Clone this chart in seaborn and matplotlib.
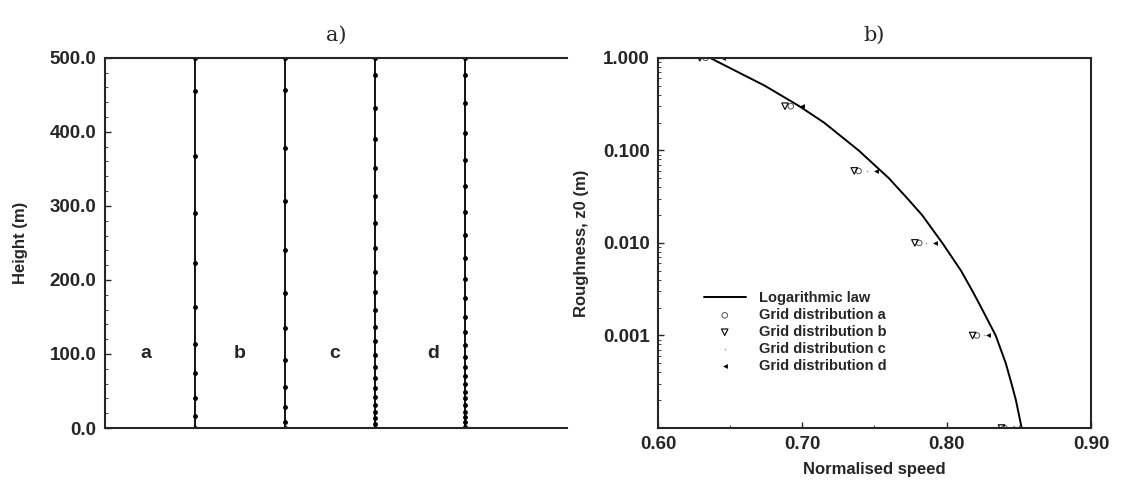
import numpy as np
import pandas as pd
import matplotlib.pyplot as plt
import seaborn as sns
from matplotlib.ticker import AutoMinorLocator, FixedLocator, FixedFormatter, NullFormatter, LogLocator

sns.set_style('ticks')
plt.rcParams['font.family'] = ['Liberation Sans', 'DejaVu Sans']
plt.rcParams['xtick.direction'] = 'in'
plt.rcParams['ytick.direction'] = 'in'

# Panel a: vertical grid point distributions (heights in m)
grid_names = ['a', 'b', 'c', 'd']
grid_xpos = [1, 2, 3, 4]
label_xpos = [0.45, 1.5, 2.55, 3.65]
heights_a = [0, 16, 40, 74, 114, 164, 223, 290, 367, 455, 500]
heights_b = [0, 8, 29, 56, 92, 135, 183, 241, 306, 378, 457, 500]
heights_c = [0, 6, 13, 22, 31, 42, 54, 67, 83, 99, 117, 137, 160, 184, 211,
             243, 277, 314, 351, 390, 432, 477, 500]
heights_d = [0, 2, 8, 15, 22, 31, 40, 49, 59, 70, 83, 96, 112, 130, 150, 175,
             201, 229, 261, 292, 327, 362, 399, 439, 477, 500]

# Panel b: logarithmic law curve
law_z0 = [1.0, 0.5, 0.3, 0.2, 0.1, 0.05, 0.03, 0.02, 0.01, 0.005, 0.003,
          0.002, 0.001, 0.0005, 0.0003, 0.0002, 0.0001]
law_speed = [0.636, 0.674, 0.698, 0.715, 0.739, 0.760, 0.773, 0.783, 0.797,
             0.810, 0.818, 0.824, 0.834, 0.841, 0.845, 0.848, 0.852]

# Panel b: simulated points for each grid distribution
pts_z0 = [1.0, 0.3, 0.06, 0.01, 0.001, 0.0001]
speed_a = [0.633, 0.692, 0.739, 0.781, 0.821, 0.840]
speed_b = [0.629, 0.688, 0.736, 0.778, 0.818, 0.838]
speed_c = [0.640, 0.697, 0.745, 0.786, 0.826, 0.843]
speed_d = [0.645, 0.700, 0.751, 0.792, 0.829, 0.845]

fig = plt.figure(figsize=(11.37, 4.82), dpi=100)
ax1 = fig.add_axes([0.0923, 0.112, 0.4063, 0.768])
ax2 = fig.add_axes([0.5787, 0.112, 0.3808, 0.768])

# ---- a) ----
for xp, h in zip(grid_xpos, [heights_a, heights_b, heights_c, heights_d]):
    sns.lineplot(x=[xp] * len(h), y=h, orient='y', ax=ax1, color='black',
                 lw=1.3, marker='o', markersize=3.5, markeredgewidth=0)
for name, xp in zip(grid_names, label_xpos):
    ax1.text(xp, 100, name, fontsize=14, fontweight='bold', ha='center', va='center')

ax1.set_xlim(0, 5.13)
ax1.set_ylim(0, 500)
ax1.set_xticks([])
ax1.set_yticks([0, 100, 200, 300, 400, 500])
ax1.set_yticklabels(['0.0', '100.0', '200.0', '300.0', '400.0', '500.0'])
ax1.yaxis.set_minor_locator(AutoMinorLocator(5))
ax1.set_ylabel('Height (m)', fontsize=12, fontweight='bold', labelpad=16)
ax1.set_title('a)', fontsize=15, family='DejaVu Serif', pad=12)
ax1.spines['right'].set_visible(False)
for s in ['left', 'top', 'bottom']:
    ax1.spines[s].set_linewidth(1.5)
ax1.tick_params(axis='y', labelsize=13.5, width=1, length=4, pad=6)
for t in ax1.get_yticklabels():
    t.set_fontweight('bold')

# ---- b) ----
sns.lineplot(x=law_speed, y=law_z0, ax=ax2, color='black', lw=1.4,
             sort=False, label='Logarithmic law')
sns.scatterplot(x=speed_a, y=pts_z0, ax=ax2, marker='o', s=16, facecolor='none',
                edgecolor='#555555', linewidth=0.7, label='Grid distribution a')
sns.scatterplot(x=speed_b, y=pts_z0, ax=ax2, marker='v', s=22, facecolor='none',
                edgecolor='black', linewidth=0.8, label='Grid distribution b')
sns.scatterplot(x=speed_c, y=pts_z0, ax=ax2, marker='.', s=5, color='#999999',
                linewidth=0, label='Grid distribution c')
sns.scatterplot(x=speed_d, y=pts_z0, ax=ax2, marker='<', s=12, color='black',
                linewidth=0, label='Grid distribution d')

ax2.set_yscale('log')
ax2.set_xlim(0.60, 0.90)
ax2.set_ylim(0.0001, 1.0)
ax2.set_xticks([0.60, 0.70, 0.80, 0.90])
ax2.set_xticklabels(['0.60', '0.70', '0.80', '0.90'])
ax2.xaxis.set_minor_locator(AutoMinorLocator(2))
ax2.yaxis.set_major_locator(FixedLocator([0.001, 0.01, 0.1, 1.0]))
ax2.yaxis.set_major_formatter(FixedFormatter(['0.001', '0.010', '0.100', '1.000']))
ax2.yaxis.set_minor_locator(LogLocator(base=10, subs=np.arange(2, 10)))
ax2.yaxis.set_minor_formatter(NullFormatter())
ax2.set_xlabel('Normalised speed', fontsize=12, fontweight='bold', labelpad=6)
ax2.set_ylabel('Roughness, z0 (m)', fontsize=12, fontweight='bold', labelpad=10)
ax2.set_title('b)', fontsize=15, family='DejaVu Serif', pad=12)
for s in ['left', 'top', 'bottom', 'right']:
    ax2.spines[s].set_linewidth(1.5)
ax2.tick_params(axis='both', labelsize=13.5, width=1, length=4, pad=6)
ax2.tick_params(which='minor', length=2)
for t in ax2.get_xticklabels() + ax2.get_yticklabels():
    t.set_fontweight('bold')

leg = ax2.legend(loc='upper left', bbox_to_anchor=(0.075, 0.405), frameon=False,
                 handlelength=2.9, labelspacing=0.2, handletextpad=0.9,
                 prop={'family': 'Liberation Sans', 'weight': 'bold', 'size': 10.5})

fig.savefig('out.png', dpi=100)
